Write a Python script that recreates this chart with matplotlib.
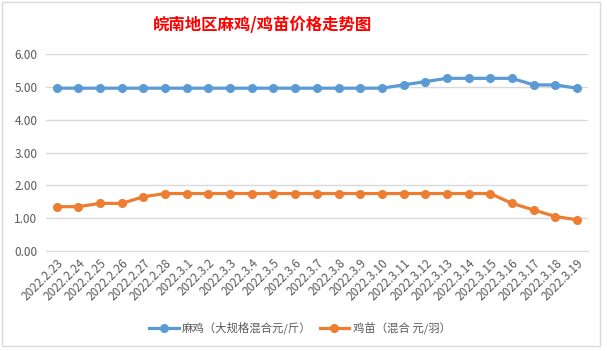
import matplotlib
matplotlib.use("Agg")
import matplotlib.pyplot as plt
from matplotlib.patches import Rectangle

plt.rcParams['font.family'] = ['Noto Sans CJK SC', 'DejaVu Sans']

dates = ["2022.2.23", "2022.2.24", "2022.2.25", "2022.2.26", "2022.2.27", "2022.2.28",
         "2022.3.1", "2022.3.2", "2022.3.3", "2022.3.4", "2022.3.5", "2022.3.6",
         "2022.3.7", "2022.3.8", "2022.3.9", "2022.3.10", "2022.3.11", "2022.3.12",
         "2022.3.13", "2022.3.14", "2022.3.15", "2022.3.16", "2022.3.17", "2022.3.18",
         "2022.3.19"]
maji = [4.96, 4.96, 4.96, 4.96, 4.96, 4.96, 4.96, 4.96, 4.96, 4.96, 4.96, 4.96,
        4.96, 4.96, 4.96, 4.96, 5.06, 5.16, 5.26, 5.26, 5.26, 5.26, 5.06, 5.06, 4.96]
jimiao = [1.35, 1.35, 1.45, 1.45, 1.65, 1.75, 1.75, 1.75, 1.75, 1.75, 1.75, 1.75,
          1.75, 1.75, 1.75, 1.75, 1.75, 1.75, 1.75, 1.75, 1.75, 1.45, 1.25, 1.05, 0.95]
yticks = [0, 1, 2, 3, 4, 5, 6]
series_names = ["麻鸡（大规格混合元/斤）", "鸡苗（混合 元/羽）"]
title = "皖南地区麻鸡/鸡苗价格走势图"

fig = plt.figure(figsize=(6.07, 3.51), dpi=100)
fig.patches.append(Rectangle((0.004, 0.015), 0.984, 0.978, transform=fig.transFigure,
                             fill=False, edgecolor="#D9D9D9", linewidth=1))
ax = fig.add_axes([0.0755, 0.285, 0.893, 0.561])

x = list(range(len(dates)))
ax.plot(x, maji, color="#5B9BD5", linewidth=2.3, marker="o", markersize=5.5,
        label=series_names[0])
ax.plot(x, jimiao, color="#ED7D31", linewidth=2.3, marker="o", markersize=5.5,
        label=series_names[1])

ax.set_xlim(-0.5, len(dates) - 0.5)
ax.set_ylim(0, 6)
ax.set_yticks(yticks)
ax.set_yticklabels([f"{v:.2f}" for v in yticks])
ax.set_xticks(x)
ax.set_xticklabels(dates, rotation=45, ha="right", va="top", rotation_mode="anchor")
ax.grid(axis="y", color="#D9D9D9", linewidth=1)
ax.set_axisbelow(True)
for s in ["top", "right", "left"]:
    ax.spines[s].set_visible(False)
ax.spines["bottom"].set_color("#D9D9D9")
ax.tick_params(axis="both", length=0, colors="#595959", labelsize=8.5)
ax.tick_params(axis="y", pad=6)
ax.tick_params(axis="x", pad=4)

fig.text(0.432, 0.928, title, color="#FF0000", fontsize=11.8, fontweight="bold",
         ha="center", va="center")

leg = fig.legend(loc="center", bbox_to_anchor=(0.494, 0.065), ncol=2, frameon=False,
                 fontsize=8.2, handlelength=2.6, columnspacing=0.7, handletextpad=0.3)
for t in leg.get_texts():
    t.set_color("#595959")

fig.savefig("out.png", dpi=100)
